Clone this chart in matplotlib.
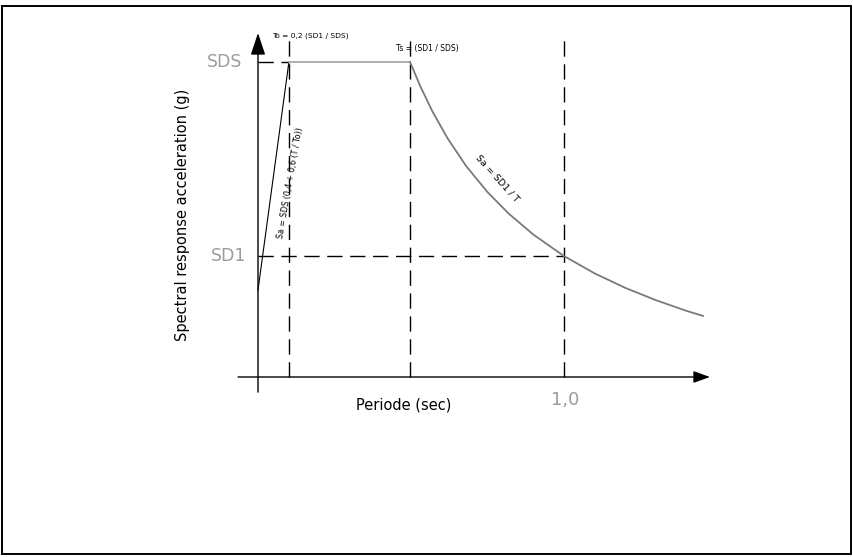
import matplotlib
matplotlib.use("Agg")
import matplotlib.pyplot as plt
from matplotlib.patches import Rectangle

plt.rcParams['font.family'] = ['DejaVu Sans']

# key values of the spectrum (T in sec, Sa relative to SDS)
T0 = 0.101
Ts = 0.497
T1 = 1.0
SDS = 1.0
SD1 = 0.384

# curve pieces
T_ramp = [0.0, T0]
Sa_ramp = [0.276, SDS]
T_plateau = [T0, Ts]
Sa_plateau = [SDS, SDS]
T_desc = [0.497, 0.53, 0.57, 0.62, 0.68, 0.75, 0.82, 0.90, 1.0, 1.1, 1.2, 1.3, 1.4, 1.454]
Sa_desc = [1.0, 0.924, 0.843, 0.757, 0.670, 0.587, 0.518, 0.452, 0.384, 0.329, 0.283,
           0.244, 0.210, 0.194]

tick_labels_y = ['SDS', 'SD1']
tick_label_x = '1,0'

fig = plt.figure(figsize=(8.54, 5.57), dpi=100)
ax = fig.add_axes([0, 0, 1, 1])
ax.set_xlim(-258 / 306, (854 - 258) / 306)
ax.set_ylim((377 - 557) / 315, 377 / 315)
ax.axis('off')

top = 1.089
dash = (0, (11, 5.5))

# axes with arrows
ax.annotate('', xy=(0, 1.092), xytext=(0, -0.048),
            arrowprops=dict(arrowstyle='-|>,head_length=1.35,head_width=0.45',
                            color='black', lw=1.0, shrinkA=0, shrinkB=0))
ax.annotate('', xy=(1.477, 0), xytext=(-0.065, 0),
            arrowprops=dict(arrowstyle='-|>,head_length=1.0,head_width=0.36',
                            color='black', lw=1.0, shrinkA=0, shrinkB=0))

# dashed guide lines
for t in [T0, Ts, T1]:
    ax.plot([t, t], [0, top], color='black', lw=1.0, linestyle=dash)
ax.plot([0, T0], [SDS, SDS], color='black', lw=1.0, linestyle=dash)
ax.plot([0, T1], [SD1, SD1], color='black', lw=1.0, linestyle=dash)

# spectrum
ax.plot(T_ramp, Sa_ramp, color='black', lw=0.8)
ax.plot(T_plateau, Sa_plateau, color='#a8a8a8', lw=1.3)
ax.plot(T_desc, Sa_desc, color='#7a7a7a', lw=1.3)

# labels
gray = '#9c9c9c'
ax.text(-0.05, SDS, tick_labels_y[0], color=gray, fontsize=12.5, ha='right', va='center')
ax.text(-0.04, SD1, tick_labels_y[1], color=gray, fontsize=12.5, ha='right', va='center')
ax.text(T1 + 0.005, -0.045, tick_label_x, color=gray, fontsize=13, ha='center', va='top')

ax.text((404 - 258) / 306, (377 - 405) / 315, 'Periode (sec)', fontsize=10.5,
        ha='center', va='center')
ax.text((183 - 258) / 306, (377 - 215) / 315, 'Spectral response acceleration (g)',
        fontsize=10.5, ha='center', va='center', rotation=90)

ax.text((310 - 258) / 306, (377 - 36) / 315, 'To = 0,2 (SD1 / SDS)', fontsize=5.4,
        ha='center', va='center')
ax.text((427 - 258) / 306, (377 - 48) / 315, 'Ts = (SD1 / SDS)', fontsize=5.5,
        ha='center', va='center')
ax.text((290 - 258) / 306, (377 - 183) / 315, 'Sa = SDS (0,4 + 0,6 (T / To))',
        fontsize=5.8, ha='center', va='center', rotation=80, rotation_mode='anchor')
ax.text((497 - 258) / 306, (377 - 178) / 315, 'Sa = SD1 / T', fontsize=6.8,
        ha='center', va='center', rotation=-48, rotation_mode='anchor')

# frame around the picture
fig.add_artist(Rectangle((2 / 854, 1 - 554 / 557), 849 / 854, 548 / 557,
                         transform=fig.transFigure, fill=False, lw=1.4,
                         edgecolor='black'))

fig.savefig('out.png', dpi=100)
